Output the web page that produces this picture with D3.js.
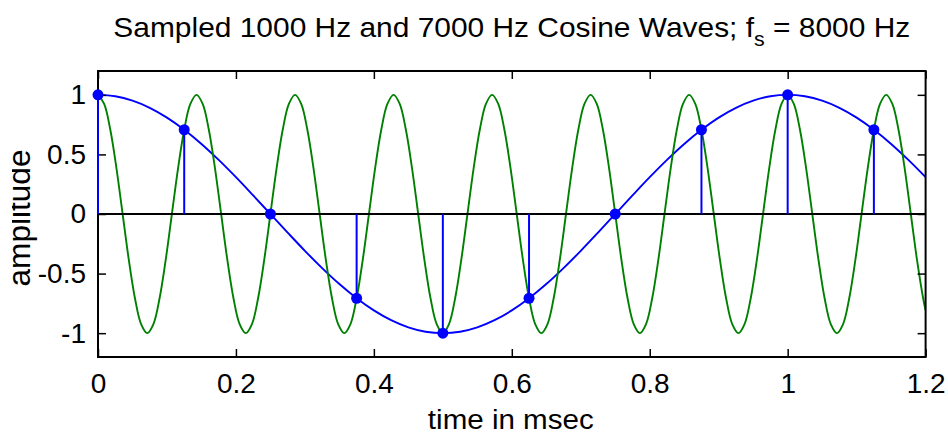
<!DOCTYPE html>
<html>
<head>
<meta charset="utf-8">
<script src="https://cdn.jsdelivr.net/npm/d3@7"></script>
<style>
  html, body { margin: 0; padding: 0; background: #fff; }
  svg { display: block; }
  text { font-family: "Liberation Sans", Arial, Helvetica, sans-serif; fill: #000; }
</style>
</head>
<body>
<svg id="chart" width="948" height="436"></svg>
<script>
// ---------------- data ----------------
const titleMain = "Sampled 1000 Hz and 7000 Hz Cosine Waves; f";
const titleSub = "s";
const titleTail = " = 8000 Hz";
const xLabel = "time in msec";
const yLabel = "amplitude";

const xTicks = [0, 0.2, 0.4, 0.6, 0.8, 1, 1.2];
const xTickLabels = ["0", "0.2", "0.4", "0.6", "0.8", "1", "1.2"];
const yTicks = [-1, -0.5, 0, 0.5, 1];
const yTickLabels = ["-1", "-0.5", "0", "0.5", "1"];

// samples at fs = 8000 Hz (time in msec)
const sampleTimes = [0, 0.125, 0.25, 0.375, 0.5, 0.625, 0.75, 0.875, 1, 1.125];
const sampleValues = [1, 0.707, 0, -0.707, -1, -0.707, 0, 0.707, 1, 0.707];

// 1000 Hz wave, read every 0.025 ms
const wave1000Step = 0.025;
const wave1000Values = [
  1, 0.988, 0.951, 0.891, 0.809, 0.707, 0.588, 0.454, 0.309, 0.156,
  0, -0.156, -0.309, -0.454, -0.588, -0.707, -0.809, -0.891, -0.951, -0.988,
  -1, -0.988, -0.951, -0.891, -0.809, -0.707, -0.588, -0.454, -0.309, -0.156,
  0, 0.156, 0.309, 0.454, 0.588, 0.707, 0.809, 0.891, 0.951, 0.988,
  1, 0.988, 0.951, 0.891, 0.809, 0.707, 0.588, 0.454, 0.309
];

// 7000 Hz wave, read every 1/112 ms, plus the end point at 1.2 ms
const wave7000Step = 1 / 112;
const wave7000Values = [
  1, 0.924, 0.707, 0.383, 0, -0.383, -0.707, -0.924, -1, -0.924, -0.707, -0.383, 0, 0.383, 0.707, 0.924,
  1, 0.924, 0.707, 0.383, 0, -0.383, -0.707, -0.924, -1, -0.924, -0.707, -0.383, 0, 0.383, 0.707, 0.924,
  1, 0.924, 0.707, 0.383, 0, -0.383, -0.707, -0.924, -1, -0.924, -0.707, -0.383, 0, 0.383, 0.707, 0.924,
  1, 0.924, 0.707, 0.383, 0, -0.383, -0.707, -0.924, -1, -0.924, -0.707, -0.383, 0, 0.383, 0.707, 0.924,
  1, 0.924, 0.707, 0.383, 0, -0.383, -0.707, -0.924, -1, -0.924, -0.707, -0.383, 0, 0.383, 0.707, 0.924,
  1, 0.924, 0.707, 0.383, 0, -0.383, -0.707, -0.924, -1, -0.924, -0.707, -0.383, 0, 0.383, 0.707, 0.924,
  1, 0.924, 0.707, 0.383, 0, -0.383, -0.707, -0.924, -1, -0.924, -0.707, -0.383, 0, 0.383, 0.707, 0.924,
  1, 0.924, 0.707, 0.383, 0, -0.383, -0.707, -0.924, -1, -0.924, -0.707, -0.383, 0, 0.383, 0.707, 0.924,
  1, 0.924, 0.707, 0.383, 0, -0.383, -0.707
];
const wave7000EndTime = 1.2;
const wave7000EndValue = -0.809;

// ---------------- layout ----------------
const svg = d3.select("#chart");
const plot = { left: 98, right: 925.6, top: 71, bottom: 357 };
const FONT = 28;
const BLUE = "#0000ff", GREEN = "#008000";

const x = d3.scaleLinear().domain([0, 1.2]).range([plot.left, plot.right]);
const y = d3.scaleLinear().domain([-1.2, 1.2]).range([plot.bottom, plot.top]);

const wave1000 = wave1000Values.map((v, i) => ({ t: i * wave1000Step, v }));
const wave7000 = wave7000Values.map((v, i) => ({ t: i * wave7000Step, v }))
  .concat([{ t: wave7000EndTime, v: wave7000EndValue }]);
const samples = sampleTimes.map((t, i) => ({ t, v: sampleValues[i] }));

const defs = svg.append("defs");
defs.append("clipPath").attr("id", "plotClip")
  .append("rect")
  .attr("x", plot.left).attr("y", plot.top)
  .attr("width", plot.right - plot.left).attr("height", plot.bottom - plot.top);

const line = d3.line().x(d => x(d.t)).y(d => y(d.v)).curve(d3.curveCatmullRom.alpha(0.5));

const g = svg.append("g").attr("clip-path", "url(#plotClip)");
g.append("path").datum(wave1000).attr("d", line)
  .attr("fill", "none").attr("stroke", BLUE).attr("stroke-width", 1.9);
g.append("path").datum(wave7000).attr("d", line)
  .attr("fill", "none").attr("stroke", GREEN).attr("stroke-width", 1.9);

// baseline
g.append("line")
  .attr("x1", x(0)).attr("x2", x(1.2)).attr("y1", y(0)).attr("y2", y(0))
  .attr("stroke", "#000").attr("stroke-width", 2);

// axes (ticks inside, box)
function styleAxis(sel) {
  sel.select(".domain").remove();
  sel.selectAll(".tick line").attr("stroke", "#000").attr("stroke-width", 1.5);
  sel.selectAll(".tick text").style("font-size", FONT + "px")
    .style("font-family", '"Liberation Sans", Arial, Helvetica, sans-serif').attr("fill", "#000");
}
svg.append("g").attr("transform", `translate(0,${plot.bottom})`)
  .call(d3.axisBottom(x).tickValues(xTicks).tickFormat((d, i) => xTickLabels[i])
    .tickSizeInner(-8).tickSizeOuter(0).tickPadding(16))
  .call(styleAxis);
svg.append("g").attr("transform", `translate(0,${plot.top})`)
  .call(d3.axisTop(x).tickValues(xTicks).tickFormat("").tickSizeInner(-8).tickSizeOuter(0))
  .call(styleAxis);
svg.append("g").attr("transform", `translate(${plot.left},0)`)
  .call(d3.axisLeft(y).tickValues(yTicks).tickFormat((d, i) => yTickLabels[i])
    .tickSizeInner(-8).tickSizeOuter(0).tickPadding(12))
  .call(styleAxis);
svg.append("g").attr("transform", `translate(${plot.right},0)`)
  .call(d3.axisRight(y).tickValues(yTicks).tickFormat("").tickSizeInner(-8).tickSizeOuter(0))
  .call(styleAxis);

svg.append("rect")
  .attr("x", plot.left).attr("y", plot.top)
  .attr("width", plot.right - plot.left).attr("height", plot.bottom - plot.top)
  .attr("fill", "none").attr("stroke", "#000").attr("stroke-width", 2);

// stems and markers
const sg = svg.append("g");
sg.selectAll("line.stem").data(samples).join("line").attr("class", "stem")
  .attr("x1", d => x(d.t)).attr("x2", d => x(d.t))
  .attr("y1", y(0)).attr("y2", d => y(d.v))
  .attr("stroke", BLUE).attr("stroke-width", 2);
sg.selectAll("circle").data(samples).join("circle")
  .attr("cx", d => x(d.t)).attr("cy", d => y(d.v)).attr("r", 5.5)
  .attr("fill", BLUE);

// helper: stretch text horizontally to a target width
function fitWidth(sel, target, cx) {
  const w = sel.node().getBBox().width;
  const s = target / w;
  sel.attr("transform", `translate(${cx},0) scale(${s},1) translate(${-cx},0)`);
}

// title
const cx = (plot.left + plot.right) / 2;
const title = svg.append("text").attr("x", cx).attr("y", 37)
  .attr("text-anchor", "middle").style("font-size", FONT + "px");
title.append("tspan").text(titleMain);
title.append("tspan").text(titleSub).style("font-size", "20px").attr("dy", 9);
title.append("tspan").text(titleTail).attr("dy", -9);
fitWidth(title, 797, cx);

// x label
const xl = svg.append("text").attr("x", cx - 1).attr("y", 429)
  .attr("text-anchor", "middle").style("font-size", "27px").text(xLabel);
fitWidth(xl, 166, cx - 1);

// y label (rotated, partly cut at the left edge as in the reference)
defs.append("clipPath").attr("id", "ylabClip")
  .append("rect").attr("x", 12).attr("y", 0).attr("width", 60).attr("height", 436);
const ylg = svg.append("g").attr("clip-path", "url(#ylabClip)");
const yl = ylg.append("text").attr("text-anchor", "middle")
  .style("font-size", "32px").text(yLabel)
  .attr("transform", "translate(30,218) rotate(-90)");
const yw = yl.node().getBBox().width;
yl.attr("transform", `translate(30,218) rotate(-90) scale(${137 / yw},1)`);
</script>
</body>
</html>
